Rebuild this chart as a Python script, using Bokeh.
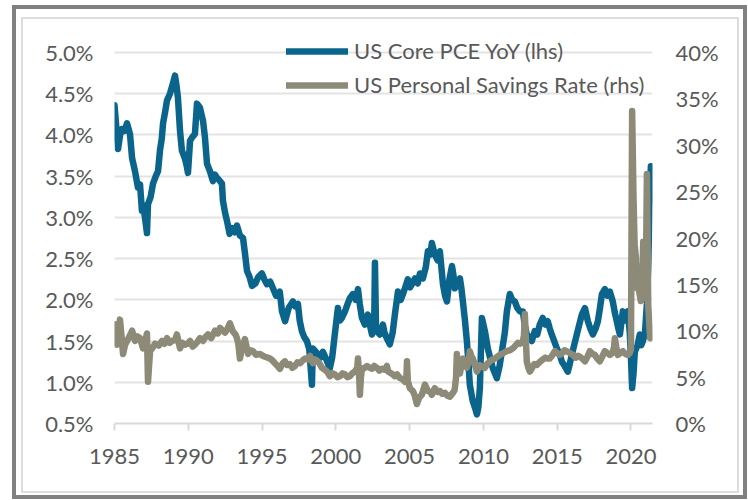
from bokeh.plotting import figure
from bokeh.models import Range1d, LinearAxis, FixedTicker, Legend, LegendItem
from bokeh.embed import file_html
from bokeh.resources import INLINE

# ---------------- data ----------------
pce_year = [1985.00, 1985.12, 1985.24, 1985.38, 1985.51, 1985.68, 1985.85, 1986.05, 1986.19, 1986.39,
            1986.59, 1986.73, 1986.86, 1986.95, 1987.10, 1987.20, 1987.27, 1987.45, 1987.61, 1987.80,
            1987.95, 1988.08, 1988.20, 1988.29, 1988.45, 1988.56, 1988.76, 1988.95, 1989.10, 1989.20,
            1989.30, 1989.44, 1989.57, 1989.78, 1989.90, 1989.98, 1990.12, 1990.30, 1990.45, 1990.59,
            1990.79, 1991.00, 1991.13, 1991.27, 1991.47, 1991.67, 1991.80, 1991.94, 1992.10, 1992.28,
            1992.35, 1992.50, 1992.62, 1992.80, 1992.96, 1993.15, 1993.30, 1993.50, 1993.71, 1993.85,
            1993.98, 1994.15, 1994.32, 1994.55, 1994.75, 1994.99, 1995.15, 1995.33, 1995.55, 1995.74,
            1995.95, 1996.20, 1996.35, 1996.56, 1996.80, 1997.09, 1997.25, 1997.43, 1997.55, 1997.70,
            1997.85, 1998.04, 1998.20, 1998.38, 1998.44, 1998.60, 1998.78, 1998.95, 1999.12, 1999.35,
            1999.59, 1999.75, 1999.93, 2000.14, 2000.28, 2000.41, 2000.62, 2000.80, 2000.95, 2001.16,
            2001.35, 2001.50, 2001.62, 2001.77, 2001.97, 2002.17, 2002.30, 2002.45, 2002.60, 2002.65,
            2002.72, 2002.78, 2002.99, 2003.19, 2003.30, 2003.46, 2003.66, 2003.85, 2004.00, 2004.21,
            2004.40, 2004.55, 2004.70, 2004.88, 2005.03, 2005.16, 2005.36, 2005.55, 2005.70, 2005.90,
            2006.10, 2006.24, 2006.40, 2006.51, 2006.60, 2006.71, 2006.90, 2007.05, 2007.15, 2007.26,
            2007.40, 2007.53, 2007.70, 2007.87, 2007.97, 2008.07, 2008.25, 2008.41, 2008.50, 2008.61,
            2008.75, 2008.88, 2009.00, 2009.08, 2009.28, 2009.45, 2009.56, 2009.66, 2009.76, 2009.90,
            2010.10, 2010.30, 2010.45, 2010.64, 2010.80, 2010.91, 2011.10, 2011.25, 2011.45, 2011.59,
            2011.79, 2011.95, 2012.13, 2012.30, 2012.47, 2012.67, 2012.80, 2012.94, 2013.10, 2013.28,
            2013.48, 2013.65, 2013.82, 2014.02, 2014.20, 2014.36, 2014.50, 2014.63, 2014.80, 2014.98,
            2015.15, 2015.32, 2015.50, 2015.72, 2015.85, 2016.00, 2016.15, 2016.33, 2016.50, 2016.67,
            2016.88, 2017.08, 2017.25, 2017.42, 2017.60, 2017.76, 2017.90, 2018.03, 2018.23, 2018.40,
            2018.57, 2018.77, 2018.90, 2019.04, 2019.15, 2019.25, 2019.45, 2019.60, 2019.79, 2019.92,
            2020.00, 2020.08, 2020.17, 2020.26, 2020.45, 2020.60, 2020.70, 2020.81, 2020.95, 2021.08,
            2021.17, 2021.25, 2021.35]
pce_value = [4.36, 4.10, 3.83, 4.00, 4.07, 4.05, 4.14, 4.01, 3.72, 3.56,
             3.36, 3.40, 3.08, 3.15, 2.95, 2.81, 3.16, 3.25, 3.41, 3.50,
             3.56, 3.81, 3.95, 4.14, 4.30, 4.42, 4.50, 4.62, 4.72, 4.60,
             4.45, 4.05, 3.81, 3.71, 3.62, 3.54, 3.93, 3.98, 4.01, 4.38,
             4.33, 4.17, 3.97, 3.65, 3.56, 3.44, 3.52, 3.48, 3.45, 3.41,
             3.20, 3.05, 2.96, 2.80, 2.87, 2.82, 2.90, 2.78, 2.75, 2.55,
             2.35, 2.28, 2.17, 2.20, 2.28, 2.32, 2.25, 2.19, 2.22, 2.14,
             2.05, 2.10, 1.86, 1.74, 1.90, 1.98, 1.92, 1.95, 1.75, 1.62,
             1.55, 1.50, 1.40, 0.97, 1.41, 1.38, 1.34, 1.30, 1.37, 1.28,
             1.17, 1.30, 1.58, 1.90, 1.75, 1.78, 1.86, 1.95, 2.02, 2.07,
             2.00, 2.13, 1.95, 1.78, 1.70, 1.82, 1.70, 1.58, 1.70, 2.45,
             1.70, 1.62, 1.58, 1.70, 1.60, 1.53, 1.46, 1.60, 1.82, 2.10,
             2.00, 2.07, 2.15, 2.25, 2.15, 2.19, 2.26, 2.20, 2.32, 2.26,
             2.40, 2.59, 2.55, 2.69, 2.62, 2.55, 2.48, 2.59, 2.40, 2.19,
             2.05, 1.98, 2.25, 2.41, 2.30, 2.14, 2.20, 2.26, 2.15, 1.98,
             1.75, 1.50, 1.20, 0.97, 0.77, 0.68, 0.61, 0.70, 0.93, 1.78,
             1.62, 1.41, 1.30, 1.17, 1.10, 1.05, 1.20, 1.37, 1.60, 1.86,
             2.07, 2.00, 1.98, 1.90, 1.86, 1.86, 1.70, 1.58, 1.55, 1.50,
             1.62, 1.58, 1.70, 1.78, 1.70, 1.74, 1.65, 1.58, 1.50, 1.41,
             1.35, 1.25, 1.20, 1.13, 1.22, 1.34, 1.45, 1.58, 1.70, 1.82,
             1.90, 1.74, 1.65, 1.58, 1.65, 1.74, 1.90, 2.07, 2.13, 2.05,
             2.10, 1.98, 1.85, 1.74, 1.65, 1.58, 1.86, 1.75, 1.86, 1.60,
             1.30, 0.93, 1.10, 1.37, 1.45, 1.58, 1.45, 1.50, 1.60, 1.95,
             2.40, 3.10, 3.62]

sav_year = [1985.00, 1985.10, 1985.17, 1985.37, 1985.50, 1985.58, 1985.72, 1985.85, 1986.05, 1986.19,
            1986.39, 1986.55, 1986.73, 1986.93, 1987.10, 1987.20, 1987.27, 1987.41, 1987.60, 1987.74,
            1988.00, 1988.22, 1988.40, 1988.56, 1988.75, 1988.90, 1989.10, 1989.23, 1989.44, 1989.60,
            1989.78, 1989.95, 1990.12, 1990.30, 1990.45, 1990.62, 1990.79, 1991.00, 1991.15, 1991.33,
            1991.55, 1991.81, 1992.00, 1992.15, 1992.35, 1992.49, 1992.65, 1992.82, 1993.03, 1993.20,
            1993.30, 1993.40, 1993.50, 1993.65, 1993.84, 1994.05, 1994.20, 1994.38, 1994.60, 1994.86,
            1995.05, 1995.20, 1995.38, 1995.54, 1995.70, 1995.87, 1996.05, 1996.21, 1996.40, 1996.55,
            1996.70, 1996.89, 1997.05, 1997.23, 1997.40, 1997.57, 1997.75, 1997.91, 1998.10, 1998.25,
            1998.45, 1998.60, 1998.78, 1998.92, 1999.06, 1999.25, 1999.40, 1999.60, 1999.75, 1999.93,
            2000.10, 2000.27, 2000.45, 2000.61, 2000.80, 2000.95, 2001.10, 2001.29, 2001.45, 2001.50,
            2001.57, 2001.63, 2001.70, 2001.77, 2001.95, 2002.11, 2002.30, 2002.45, 2002.60, 2002.79,
            2002.95, 2003.12, 2003.30, 2003.46, 2003.55, 2003.66, 2003.85, 2004.00, 2004.15, 2004.34,
            2004.50, 2004.68, 2004.78, 2004.82, 2004.88, 2005.02, 2005.22, 2005.35, 2005.49, 2005.65,
            2005.83, 2006.04, 2006.15, 2006.24, 2006.40, 2006.51, 2006.60, 2006.71, 2006.90, 2007.05,
            2007.20, 2007.39, 2007.55, 2007.73, 2007.93, 2008.05, 2008.15, 2008.20, 2008.30, 2008.41,
            2008.50, 2008.61, 2008.75, 2008.88, 2009.00, 2009.08, 2009.20, 2009.28, 2009.45, 2009.56,
            2009.66, 2009.76, 2009.92, 2010.10, 2010.25, 2010.44, 2010.60, 2010.78, 2010.95, 2011.12,
            2011.35, 2011.59, 2011.80, 2012.00, 2012.17, 2012.34, 2012.50, 2012.67, 2012.75, 2012.81,
            2012.88, 2012.94, 2013.05, 2013.15, 2013.30, 2013.45, 2013.62, 2013.80, 2014.02, 2014.20,
            2014.35, 2014.50, 2014.65, 2014.84, 2015.00, 2015.17, 2015.35, 2015.50, 2015.65, 2015.85,
            2016.06, 2016.25, 2016.40, 2016.53, 2016.70, 2016.88, 2017.05, 2017.21, 2017.40, 2017.55,
            2017.72, 2017.89, 2018.05, 2018.23, 2018.40, 2018.57, 2018.75, 2018.85, 2018.91, 2019.00,
            2019.11, 2019.30, 2019.45, 2019.62, 2019.79, 2019.92, 2020.00, 2020.08, 2020.17, 2020.25,
            2020.33, 2020.42, 2020.50, 2020.58, 2020.67, 2020.75, 2020.83, 2020.92, 2021.00, 2021.08,
            2021.17, 2021.30]
sav_value = [10.7, 9.5, 8.5, 11.2, 9.0, 7.5, 8.5, 8.9, 9.5, 10.0,
             8.9, 9.4, 9.2, 8.1, 9.0, 9.7, 4.5, 7.8, 8.2, 8.6,
             8.4, 8.9, 8.6, 9.2, 8.7, 8.9, 9.0, 9.6, 8.1, 8.7,
             8.5, 8.6, 8.9, 8.3, 8.5, 8.8, 9.2, 8.9, 9.3, 9.6,
             9.2, 10.0, 9.7, 10.3, 10.0, 9.8, 10.2, 10.8, 9.9, 9.6,
             9.2, 8.5, 7.0, 8.2, 9.1, 7.5, 7.9, 7.8, 7.4, 7.5,
             7.3, 7.2, 7.1, 7.0, 6.8, 6.5, 6.2, 5.9, 6.5, 6.7,
             6.3, 6.4, 6.0, 6.2, 6.6, 6.5, 6.8, 7.0, 6.9, 7.3,
             6.5, 6.9, 6.7, 6.4, 6.0, 5.8, 5.6, 5.1, 5.4, 5.3,
             5.0, 5.1, 5.4, 5.3, 5.0, 5.1, 5.4, 5.6, 6.0, 7.0,
             5.5, 3.1, 5.0, 5.9, 6.0, 6.2, 6.0, 5.9, 6.2, 6.0,
             5.7, 5.9, 5.8, 6.2, 5.6, 5.5, 5.3, 5.1, 5.3, 4.9,
             4.8, 4.5, 4.9, 6.7, 4.6, 3.8, 3.5, 3.0, 2.1, 2.8,
             3.1, 4.2, 3.8, 3.5, 3.4, 3.1, 3.5, 3.8, 3.4, 3.5,
             3.2, 3.3, 3.0, 2.9, 3.3, 3.6, 5.0, 7.5, 5.8, 5.4,
             6.2, 7.0, 6.5, 6.0, 6.8, 7.8, 7.2, 7.0, 6.2, 5.6,
             6.0, 6.3, 6.1, 6.0, 6.4, 6.7, 6.9, 7.0, 7.2, 7.4,
             7.6, 7.8, 7.9, 8.1, 8.4, 8.7, 8.6, 8.8, 9.5, 11.8,
             9.0, 6.7, 6.0, 5.6, 6.0, 6.4, 6.3, 6.6, 6.9, 7.1,
             7.0, 7.0, 7.3, 7.8, 7.6, 7.4, 7.6, 7.9, 7.8, 7.6,
             7.4, 7.1, 7.3, 7.2, 7.0, 6.7, 7.2, 7.8, 7.5, 7.4,
             7.0, 6.7, 7.2, 7.8, 7.6, 7.4, 7.6, 8.2, 9.2, 8.3,
             7.4, 7.6, 7.8, 7.5, 7.4, 7.6, 8.0, 33.7, 24.5, 19.2,
             18.0, 14.6, 15.0, 14.0, 13.2, 13.4, 19.6, 13.6, 13.8, 26.9,
             12.7, 9.2]

x_ticks = [1985, 1990, 1995, 2000, 2005, 2010, 2015, 2020]
x_tick_labels = ["1985", "1990", "1995", "2000", "2005", "2010", "2015", "2020"]
lhs_ticks = [0.5, 1.0, 1.5, 2.0, 2.5, 3.0, 3.5, 4.0, 4.5, 5.0]
lhs_tick_labels = ["0.5%", "1.0%", "1.5%", "2.0%", "2.5%", "3.0%", "3.5%", "4.0%", "4.5%", "5.0%"]
rhs_ticks = [0, 5, 10, 15, 20, 25, 30, 35, 40]
rhs_tick_labels = ["0%", "5%", "10%", "15%", "20%", "25%", "30%", "35%", "40%"]
series_names = ["US Core PCE YoY (lhs)", "US Personal Savings Rate (rhs)"]

# ---------------- styling ----------------
FONT = "Lato"
FSIZE = "22px"
TXT = "#595959"
BLUE = "#0A648C"
TAN = "#8E8A78"

# frame of the chart drawn as CSS background layers of the figure element
DARK = "linear-gradient(#808080,#808080)"
LIGHT = "linear-gradient(#DDDDDD,#DDDDDD)"
frame_bg = ", ".join([
    DARK + " 12px 5px / 735px 4px no-repeat",
    DARK + " 12px 5px / 4px 494px no-repeat",
    DARK + " 743px 5px / 4px 494px no-repeat",
    DARK + " 12px 495px / 735px 4px no-repeat",
    LIGHT + " 21px 17px / 718px 2px no-repeat",
    LIGHT + " 21px 17px / 2px 476px no-repeat",
    LIGHT + " 737px 17px / 2px 476px no-repeat",
    LIGHT + " 21px 491px / 718px 2px no-repeat",
    "white",
])

p = figure(width=747, height=499, output_backend="svg", toolbar_location=None,
           x_range=Range1d(1985, 2021.46), y_range=Range1d(0.5, 5.267),
           min_border_left=114, min_border_right=95, min_border_top=30, min_border_bottom=76,
           background_fill_color="white", border_fill_color=None,
           styles={"background": frame_bg})
p.outline_line_color = None
p.extra_y_ranges = {"rhs": Range1d(0, 42.372)}

# bottom axis
xa = p.xaxis[0]
xa.ticker = FixedTicker(ticks=x_ticks)
xa.major_label_overrides = dict(zip(x_ticks, x_tick_labels))
xa.axis_line_color = "#D9D9D9"
xa.axis_line_width = 2
xa.major_tick_line_color = "#D9D9D9"
xa.major_tick_line_width = 2
xa.major_tick_out = 7
xa.major_tick_in = 0
xa.minor_tick_line_color = None
xa.minor_tick_out = 0
xa.major_label_standoff = 18
xa.major_label_text_font = FONT
xa.major_label_text_font_size = FSIZE
xa.major_label_text_color = TXT

# left axis
ya = p.yaxis[0]
ya.ticker = FixedTicker(ticks=lhs_ticks)
ya.major_label_overrides = dict(zip(lhs_ticks, lhs_tick_labels))
ya.axis_line_color = None
ya.major_tick_line_color = None
ya.minor_tick_line_color = None
ya.major_tick_out = 0
ya.minor_tick_out = 0
ya.major_label_standoff = 21
ya.major_label_text_font = FONT
ya.major_label_text_font_size = FSIZE
ya.major_label_text_color = TXT

# right axis
ra = LinearAxis(y_range_name="rhs", ticker=FixedTicker(ticks=rhs_ticks))
ra.major_label_overrides = dict(zip(rhs_ticks, rhs_tick_labels))
ra.axis_line_color = None
ra.major_tick_line_color = None
ra.minor_tick_line_color = None
ra.major_tick_out = 0
ra.minor_tick_out = 0
ra.major_label_standoff = 23
ra.major_label_text_font = FONT
ra.major_label_text_font_size = FSIZE
ra.major_label_text_color = TXT
p.add_layout(ra, "right")

p.xgrid.grid_line_color = None
p.ygrid.grid_line_color = "#E3E3E3"
p.ygrid.grid_line_width = 2

r1 = p.line(pce_year, pce_value, line_width=6.5, line_color=BLUE,
            line_join="round", line_cap="round")
r2 = p.line(sav_year, sav_value, y_range_name="rhs", line_width=6.5, line_color=TAN,
            line_join="round", line_cap="round")

legend = Legend(items=[LegendItem(label=series_names[0], renderers=[r1]),
                       LegendItem(label=series_names[1], renderers=[r2])],
                location=(172, 325), orientation="vertical",
                glyph_width=62, glyph_height=26, label_height=26, label_width=10,
                label_standoff=6, spacing=7, padding=0, margin=0,
                border_line_color=None, background_fill_alpha=0,
                label_text_font=FONT, label_text_font_size="22px",
                label_text_color=TXT)
p.add_layout(legend, "center")

open("out.html", "w").write(file_html(p, INLINE))
